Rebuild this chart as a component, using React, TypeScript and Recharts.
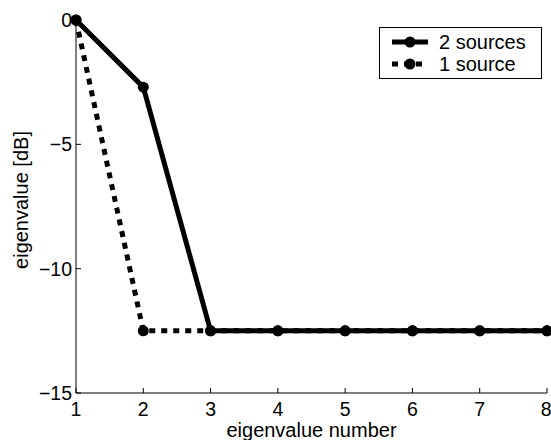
import { Label, Line, LineChart, XAxis, YAxis } from "recharts";

const FONT = "'Liberation Sans', Arial, Helvetica, sans-serif";

const eigenIndex = [1, 2, 3, 4, 5, 6, 7, 8];
const twoSources = [0, -2.7, -12.5, -12.5, -12.5, -12.5, -12.5, -12.5];
const oneSource = [0, -12.5, -12.5, -12.5, -12.5, -12.5, -12.5, -12.5];

const xTicks = [1, 2, 3, 4, 5, 6, 7, 8];
const yTicks = [0, -5, -10, -15];

const data = eigenIndex.map((n, i) => ({
  n,
  two: twoSources[i],
  one: oneSource[i]
}));

const fmt = (v: number) => (v < 0 ? `\u2212${Math.abs(v)}` : `${v}`);

// boxed legend in the upper right corner
function LegendBox() {
  return (
    <svg width={164} height={53} style={{ display: "block" }}>
      <rect x={0.5} y={0.5} width={162} height={51} fill="#fff" stroke="#000" />
      <line x1={13} y1={15} x2={49} y2={15} stroke="#000" strokeWidth={5} />
      <circle cx={31} cy={15} r={5.5} fill="#000" />
      <text x={60} y={22} fontSize={20} fontFamily={FONT} fill="#000">
        2 sources
      </text>
      <line
        x1={13}
        y1={37}
        x2={49}
        y2={37}
        stroke="#000"
        strokeWidth={5}
        strokeDasharray="6 6"
      />
      <circle cx={31} cy={37} r={5.5} fill="#000" />
      <text x={60} y={44} fontSize={20} fontFamily={FONT} fill="#000">
        1 source
      </text>
    </svg>
  );
}

export default function App() {
  const tickStyle = { fontSize: 19.5, fontFamily: FONT, fill: "#000" };
  return (
    <div style={{ position: "absolute", left: 0, top: 0, width: 551, height: 440, background: "#fff" }}>
      <LineChart
        width={551}
        height={440}
        data={data}
        margin={{ top: 20, right: 4, bottom: 0, left: 0 }}
      >
        <XAxis
          dataKey="n"
          type="number"
          domain={[1, 8]}
          ticks={xTicks}
          height={47}
          tickSize={-5}
          tickMargin={14}
          tick={tickStyle}
          axisLine={{ stroke: "#000", strokeWidth: 1 }}
          tickLine={{ stroke: "#000" }}
        >
          <Label
            value="eigenvalue number"
            position="insideBottom"
            offset={3}
            style={{ fontSize: 20, fontFamily: FONT, fill: "#000" }}
          />
        </XAxis>
        <YAxis
          type="number"
          domain={[-15, 0]}
          ticks={yTicks}
          width={76}
          tickSize={-5}
          tickMargin={9}
          tickFormatter={fmt}
          tick={tickStyle}
          axisLine={{ stroke: "#000", strokeWidth: 1 }}
          tickLine={{ stroke: "#000" }}
        >
          <Label
            content={() => (
              <text
                x={28}
                y={200}
                transform="rotate(-90 28 200)"
                textAnchor="middle"
                fontSize={20}
                fontFamily={FONT}
                fill="#000"
              >
                eigenvalue [dB]
              </text>
            )}
          />
        </YAxis>
        <Line
          dataKey="one"
          name="1 source"
          stroke="#000"
          strokeWidth={5}
          strokeDasharray="6 6"
          dot={{ r: 5.5, fill: "#000", stroke: "#000", strokeWidth: 0, strokeDasharray: "0" }}
          isAnimationActive={false}
        />
        <Line
          dataKey="two"
          name="2 sources"
          stroke="#000"
          strokeWidth={5}
          dot={{ r: 5.5, fill: "#000", stroke: "#000", strokeWidth: 0 }}
          isAnimationActive={false}
        />
      </LineChart>
      <div style={{ position: "absolute", left: 379, top: 27 }}>
        <LegendBox />
      </div>
    </div>
  );
}
